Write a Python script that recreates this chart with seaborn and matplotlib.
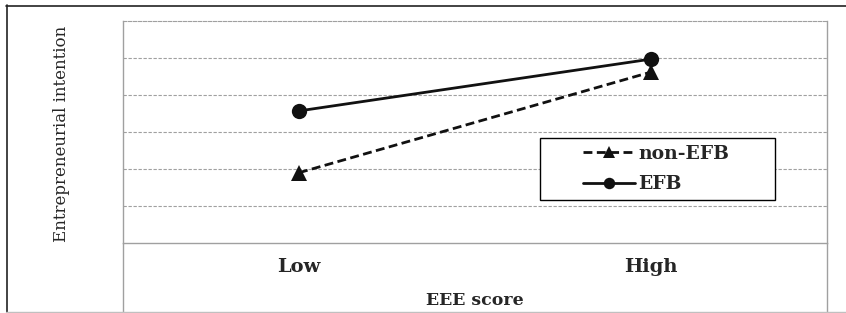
import pandas as pd
import numpy as np
import matplotlib.pyplot as plt
import seaborn as sns
from matplotlib.lines import Line2D
from matplotlib.patches import Rectangle

# values (y axis 0..6, no tick labels)
scores = ['Low', 'High']
non_efb = [1.90, 4.62]
efb = [3.57, 4.97]
groups = ['non-EFB', 'EFB']

df = pd.DataFrame({
    'score': scores * 2,
    'value': non_efb + efb,
    'group': [groups[0]] * 2 + [groups[1]] * 2,
})

sns.set_style('white')
plt.rcParams['font.family'] = ['DejaVu Serif']

fig = plt.figure(figsize=(8.46, 3.13), dpi=100)
ax = fig.add_axes([123 / 846, 70 / 313, 704 / 846, 222 / 313])

sns.lineplot(data=df, x='score', y='value', hue='group', style='group',
             hue_order=groups, style_order=groups,
             palette={'non-EFB': '#111111', 'EFB': '#111111'},
             dashes={'non-EFB': (3.2, 1.6), 'EFB': ''},
             markers={'non-EFB': '^', 'EFB': 'o'},
             markersize=11, linewidth=2, markeredgewidth=0,
             sort=False, ax=ax, zorder=5)

ax.set_xlim(-0.5, 1.5)
ax.set_ylim(0, 6)
ax.set_yticks([1, 2, 3, 4, 5])
ax.set_yticklabels([])
ax.tick_params(axis='y', length=0)
ax.tick_params(axis='x', length=0, pad=11, labelsize=14)
for lab in ax.get_xticklabels():
    lab.set_fontweight('bold')
ax.yaxis.grid(True, linestyle=(0, (3, 1.5)), color='#a0a0a0', linewidth=0.8)
ax.xaxis.grid(False)

for side in ['left', 'right', 'bottom']:
    ax.spines[side].set_color('#a0a0a0')
    ax.spines[side].set_linewidth(1)
ax.spines['top'].set_color('#a0a0a0')
ax.spines['top'].set_linestyle((0, (3, 1.5)))
ax.spines['top'].set_linewidth(0.8)

# vertical borders of the plot box continue below the axis
for xa in [0, 1]:
    ax.plot([xa, xa], [0, -0.35], transform=ax.transAxes, color='#a0a0a0',
            lw=1, clip_on=False)

ax.set_ylabel('Entrepreneurial intention', fontsize=12, va='center')
ax.yaxis.set_label_coords(-0.087, 0.49)
ax.set_xlabel('EEE score', fontsize=12.5, fontweight='bold', va='center')
ax.xaxis.set_label_coords(0.5, -0.26)

# legend box
ax.add_patch(Rectangle((0.592, 0.194), 0.334, 0.279, transform=ax.transAxes,
                       facecolor='white', edgecolor='black', lw=1, zorder=6))
handles, labels = ax.get_legend_handles_labels()
leg = ax.legend(handles, labels, loc='center', bbox_to_anchor=(0.757, 0.333),
                frameon=False, handlelength=2.8, handletextpad=0.15,
                labelspacing=0.65, markerscale=0.75,
                prop={'family': 'DejaVu Serif', 'weight': 'bold', 'size': 13.5})
leg.set_zorder(7)

# outer frame
fig.add_artist(Line2D([6.5 / 846, 6.5 / 846], [0, 1 - 5 / 313],
                      transform=fig.transFigure, color='#222222', lw=1.2))
fig.add_artist(Line2D([6 / 846, 1], [1 - 5.5 / 313, 1 - 5.5 / 313],
                      transform=fig.transFigure, color='#222222', lw=1.2))
fig.add_artist(Line2D([6 / 846, 1], [1.5 / 313, 1.5 / 313],
                      transform=fig.transFigure, color='#c0c0c0', lw=1))

fig.savefig('out.png', dpi=100)
